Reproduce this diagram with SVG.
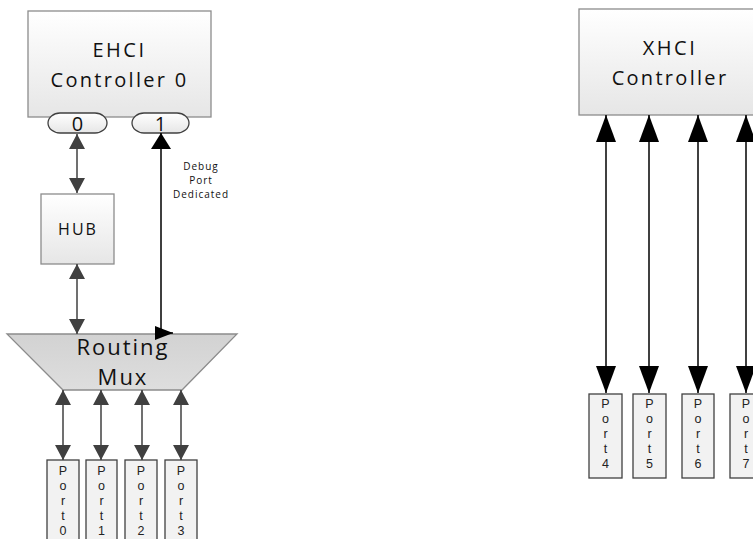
<svg xmlns="http://www.w3.org/2000/svg" width="753" height="539" viewBox="0 0 753 539">
<style>
.box{fill:url(#gBox);stroke:#8c8c8c;stroke-width:1.3}
.pill{fill:url(#gBox);stroke:#404040;stroke-width:1.3}
.port{fill:#f2f2f2;stroke:#404040;stroke-width:1.3}
.lbl{font-family:"Open Sans","Liberation Sans",sans-serif;fill:#111;text-anchor:middle}
.pt{font-family:"Liberation Sans",Arial,sans-serif;font-size:12.5px;fill:#222;text-anchor:middle}
.cg{fill:none;stroke:#404040;stroke-width:1.5}
.cb{fill:none;stroke:#000;stroke-width:1.5}
</style>
<defs>
<linearGradient id="gBox" x1="0" y1="0" x2="0" y2="1">
<stop offset="0" stop-color="#ffffff"/>
<stop offset="1" stop-color="#e6e6e6"/>
</linearGradient>
<linearGradient id="gMux" x1="0" y1="0" x2="0" y2="1">
<stop offset="0" stop-color="#d2d2d2"/>
<stop offset="1" stop-color="#dedede"/>
</linearGradient>
<marker id="ag" markerUnits="userSpaceOnUse" markerWidth="15" markerHeight="16" refX="15" refY="8" orient="auto-start-reverse" viewBox="0 0 15 16">
<path d="M0,0 L15,8 L0,16 z" fill="#404040"/>
</marker>
<marker id="xb" markerUnits="userSpaceOnUse" markerWidth="27" markerHeight="20" refX="27" refY="10" orient="auto-start-reverse" viewBox="0 0 27 20">
<path d="M0,0 L27,10 L0,20 z" fill="#000"/>
</marker>
<marker id="db" markerUnits="userSpaceOnUse" markerWidth="16" markerHeight="20" refX="16" refY="10" orient="auto-start-reverse" viewBox="0 0 16 20">
<path d="M0,0 L16,10 L0,20 z" fill="#000"/>
</marker>
<marker id="dr" markerUnits="userSpaceOnUse" markerWidth="18" markerHeight="14" refX="18" refY="7" orient="auto" viewBox="0 0 18 14">
<path d="M0,0 L18,7 L0,14 z" fill="#000"/>
</marker>
</defs>

<g id="ehci">
<rect class="box" x="28" y="11" width="183" height="106"/>
<text class="lbl" x="119.5" y="57" font-size="20" letter-spacing="2.5">EHCI</text>
<text class="lbl" x="119.5" y="87" font-size="20" letter-spacing="2.3">Controller 0</text>
</g>
<g id="ehci-port0">
<rect class="pill" x="48" y="113" width="59" height="20" rx="12" ry="10"/>
<text class="lbl" x="77.5" y="130.5" font-size="20">0</text>
</g>
<g id="ehci-port1">
<rect class="pill" x="132" y="113" width="57" height="20" rx="12" ry="10"/>
<text class="lbl" x="160.5" y="130.5" font-size="20">1</text>
</g>
<g id="debug-label">
<text class="lbl" font-size="10" letter-spacing="1"><tspan x="201" y="170">Debug</tspan><tspan x="201" y="184">Port</tspan><tspan x="201" y="198">Dedicated</tspan></text>
</g>
<g id="hub">
<rect class="box" x="41" y="194" width="73" height="70"/>
<text class="lbl" x="78" y="235" font-size="16" letter-spacing="2">HUB</text>
</g>
<g id="mux">
<path d="M7,334 H237 L182,390 H63 Z" fill="url(#gMux)" stroke="#8c8c8c" stroke-width="1.3"/>
<text class="lbl" x="123" y="355" font-size="22" letter-spacing="2">Routing</text>
<text class="lbl" x="123" y="385" font-size="22" letter-spacing="2">Mux</text>
</g>

<g id="port0"><rect class="port" x="47" y="460" width="32" height="90"/>
<text class="pt"><tspan x="63" y="475">P</tspan><tspan x="63" y="490">o</tspan><tspan x="63" y="505">r</tspan><tspan x="63" y="520">t</tspan><tspan x="63" y="535">0</tspan></text></g>
<g id="port1"><rect class="port" x="86" y="460" width="31" height="90"/>
<text class="pt"><tspan x="101.5" y="475">P</tspan><tspan x="101.5" y="490">o</tspan><tspan x="101.5" y="505">r</tspan><tspan x="101.5" y="520">t</tspan><tspan x="101.5" y="535">1</tspan></text></g>
<g id="port2"><rect class="port" x="125" y="460" width="32" height="90"/>
<text class="pt"><tspan x="141" y="475">P</tspan><tspan x="141" y="490">o</tspan><tspan x="141" y="505">r</tspan><tspan x="141" y="520">t</tspan><tspan x="141" y="535">2</tspan></text></g>
<g id="port3"><rect class="port" x="165" y="460" width="32" height="90"/>
<text class="pt"><tspan x="181" y="475">P</tspan><tspan x="181" y="490">o</tspan><tspan x="181" y="505">r</tspan><tspan x="181" y="520">t</tspan><tspan x="181" y="535">3</tspan></text></g>

<g id="xhci">
<rect class="box" x="579" y="9" width="190" height="106"/>
<text class="lbl" x="670" y="55" font-size="20" letter-spacing="2.5">XHCI</text>
<text class="lbl" x="670" y="85" font-size="20" letter-spacing="2.3">Controller</text>
</g>

<g id="port4"><rect class="port" x="589" y="394" width="33" height="84"/>
<text class="pt"><tspan x="605.5" y="408">P</tspan><tspan x="605.5" y="423">o</tspan><tspan x="605.5" y="438">r</tspan><tspan x="605.5" y="453">t</tspan><tspan x="605.5" y="468">4</tspan></text></g>
<g id="port5"><rect class="port" x="633" y="394" width="33" height="84"/>
<text class="pt"><tspan x="649.5" y="408">P</tspan><tspan x="649.5" y="423">o</tspan><tspan x="649.5" y="438">r</tspan><tspan x="649.5" y="453">t</tspan><tspan x="649.5" y="468">5</tspan></text></g>
<g id="port6"><rect class="port" x="682" y="394" width="32" height="84"/>
<text class="pt"><tspan x="698" y="408">P</tspan><tspan x="698" y="423">o</tspan><tspan x="698" y="438">r</tspan><tspan x="698" y="453">t</tspan><tspan x="698" y="468">6</tspan></text></g>
<g id="port7"><rect class="port" x="730" y="394" width="32" height="84"/>
<text class="pt"><tspan x="746" y="408">P</tspan><tspan x="746" y="423">o</tspan><tspan x="746" y="438">r</tspan><tspan x="746" y="453">t</tspan><tspan x="746" y="468">7</tspan></text></g>

<g id="connectors">
<path class="cg" d="M77,134 V193" marker-start="url(#ag)" marker-end="url(#ag)"/>
<path class="cg" d="M77,264 V334" marker-start="url(#ag)" marker-end="url(#ag)"/>
<path class="cb" d="M161,133 V333 H173" marker-start="url(#db)" marker-end="url(#dr)"/>
<path class="cg" d="M63,390 V460" marker-start="url(#ag)" marker-end="url(#ag)"/>
<path class="cg" d="M101,390 V460" marker-start="url(#ag)" marker-end="url(#ag)"/>
<path class="cg" d="M142,390 V460" marker-start="url(#ag)" marker-end="url(#ag)"/>
<path class="cg" d="M181,390 V460" marker-start="url(#ag)" marker-end="url(#ag)"/>
<path class="cb" d="M606,115 V393" marker-start="url(#xb)" marker-end="url(#xb)"/>
<path class="cb" d="M649,115 V393" marker-start="url(#xb)" marker-end="url(#xb)"/>
<path class="cb" d="M698,115 V393" marker-start="url(#xb)" marker-end="url(#xb)"/>
<path class="cb" d="M746,115 V393" marker-start="url(#xb)" marker-end="url(#xb)"/>
</g>
</svg>
